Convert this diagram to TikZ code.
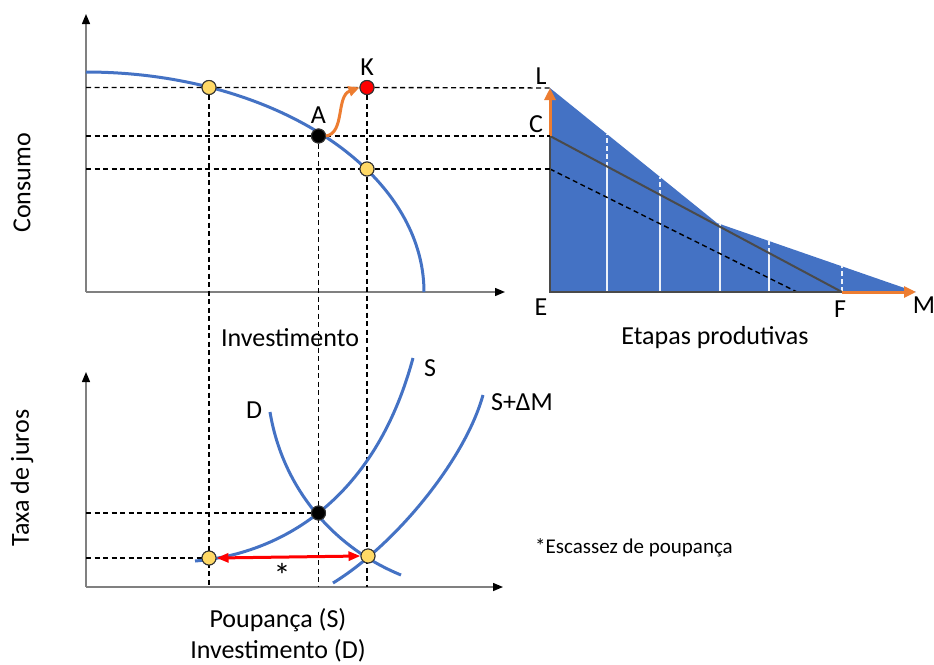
\documentclass[tikz,border=0pt]{standalone}
\usepackage{fontspec}
\setmainfont{Carlito}
\usetikzlibrary{arrows.meta,positioning}
\definecolor{curveblue}{HTML}{4472C4}
\definecolor{arrorange}{HTML}{ED7D31}
\definecolor{dotyellow}{HTML}{FFD966}
\definecolor{axisgray}{HTML}{808080}
\definecolor{edgegray}{HTML}{4A4A4A}
\newcommand{\lbl}{\fontsize{26}{31}\selectfont}

\begin{document}
\begin{tikzpicture}[x=1pt, y=-1pt, every node/.style={font=\lbl, inner sep=1pt}, axis/.style={axisgray, line width=1.4pt, -{Triangle[length=10pt, width=8pt, color=black]}}, guide/.style={dashed, dash pattern=on 5pt off 3.5pt, line width=1.4pt}, curve/.style={curveblue, line width=3pt}, dot/.style={circle, draw=black!80, line width=1pt, inner sep=0pt, minimum size=14pt}, arr/.style={line width=3pt, -{Triangle[length=12pt, width=11pt]}}]
\useasboundingbox (0,0) rectangle (934,664);
% axes
\coordinate (o1) at (86,292);
\coordinate (o2) at (86,587);
\draw[axis] (o1) -- (86,14);
\draw[axis] (o1) -- (505,292);
\draw[axis] (o2) -- (86,372);
\draw[axis] (o2) -- (503,587);
% production frontier
\draw[curve] plot[domain=90:0, samples=80] ({86+338*cos(\x)},{292-220*sin(\x)});
% right panel
\coordinate (L) at (550,88);
\coordinate (C) at (550,136);
\coordinate (E) at (550,292);
\coordinate (F) at (842,292);
\coordinate (M) at (916,292);
\coordinate (kink) at (717,223);
\coordinate (c0) at (550,169);
\coordinate (c1) at (797,292);
\fill[curveblue] (L) -- (kink) -- (M) -- (E) -- cycle;
\foreach \x/\yc/\yt in {607/166.5/134, 660/194.8/177, 720/226.9/224, 769/253/241, 842/292/266}{
  \draw[white!90!curveblue, line width=1.4pt] (\x,292) -- (\x,\yc);
  \draw[white!90!curveblue, line width=1.4pt, dashed, dash pattern=on 5pt off 3pt] (\x,\yc) -- (\x,\yt);
}
\draw[edgegray, line width=2pt] (C) -- (F);
\draw[guide] (c0) -- (c1);
\draw[edgegray, line width=2.2pt] (C) -- (E) -- (F);
\draw[arr, arrorange] (C) -- (L);
\draw[arr, arrorange] (F) -- (M);
% points, top
\node[dot, fill=dotyellow] (y1) at (209,87.5) {};
\node[dot, fill=red] (K) at (367,87.5) {};
\node[dot, fill=black] (A) at (318.5,136) {};
\node[dot, fill=dotyellow] (y2) at (367,169) {};
% points, bottom
\node[dot, fill=black] (eq) at (318.5,513) {};
\node[dot, fill=dotyellow] (sv) at (209,558) {};
\node[dot, fill=dotyellow] (iv) at (368,556) {};
% guides
\draw[guide] (86,87.5) -- (y1) -- (K) -- (L);
\draw[guide] (86,136) -- (A) -- (C);
\draw[guide] (86,169) -- (y2) -- (c0);
\draw[guide] (y1) -- (209,587);
\draw[guide] (A) -- (318.5,587);
\draw[guide] (K) -- (y2) -- (367,587);
\draw[guide] (86,513) -- (eq);
\draw[guide] (86,558) -- (sv);
% S, D and S+dM
\draw[curve] (195,561) .. controls (270,555) and (372,510) .. (413,358);
\draw[curve] (270,412) .. controls (283,490) and (335,548) .. (401,575);
\draw[curve] (333,583) .. controls (395,545) and (465,460) .. (483,395);
% redraw dots on top
\foreach \p/\c in {y1/dotyellow, K/red, A/black, y2/dotyellow, eq/black, sv/dotyellow, iv/dotyellow}
  \node[dot, fill=\c] at (\p) {};
\draw[arrorange, line width=3pt, -{Triangle[length=11pt, width=10pt]}] (A.east) .. controls (345,133) and (336,96) .. (K.west);
\draw[red, line width=3pt, {Triangle[length=12pt, width=9pt]}-{Triangle[length=12pt, width=9pt]}] (sv.east) -- (iv.west);
% labels
\node[above=3pt of K] (lk) {K};
\node[above=4pt of A] (la) {A};
\node (ll) at (541,76) {L};
\node (lc) at (536,124) {C};
\node (le) at (541,307) {E};
\node (lf) at (840,309) {F};
\node (lm) at (924,305) {M};
\node (linv) at (290,338) {Investimento};
\node (letp) at (715,338) {Etapas produtivas};
\node[rotate=90] (lcons) at (22,183) {Consumo};
\node[rotate=90] (ltaxa) at (22,478) {Taxa de juros};
\node (ls) at (430,368) {S};
\node (ld) at (254,410) {D};
\node (lsm) at (522,402) {S+ΔM};
\node[font=\fontsize{34}{34}\selectfont] (lstar) at (282,575) {*};
\node[font=\fontsize{21}{25}\selectfont] (lesc) at (634,548) {*Escassez de poupança};
\node[align=center] (lpi) at (278,635) {Poupança (S)\\Investimento (D)};
\end{tikzpicture}
\end{document}
